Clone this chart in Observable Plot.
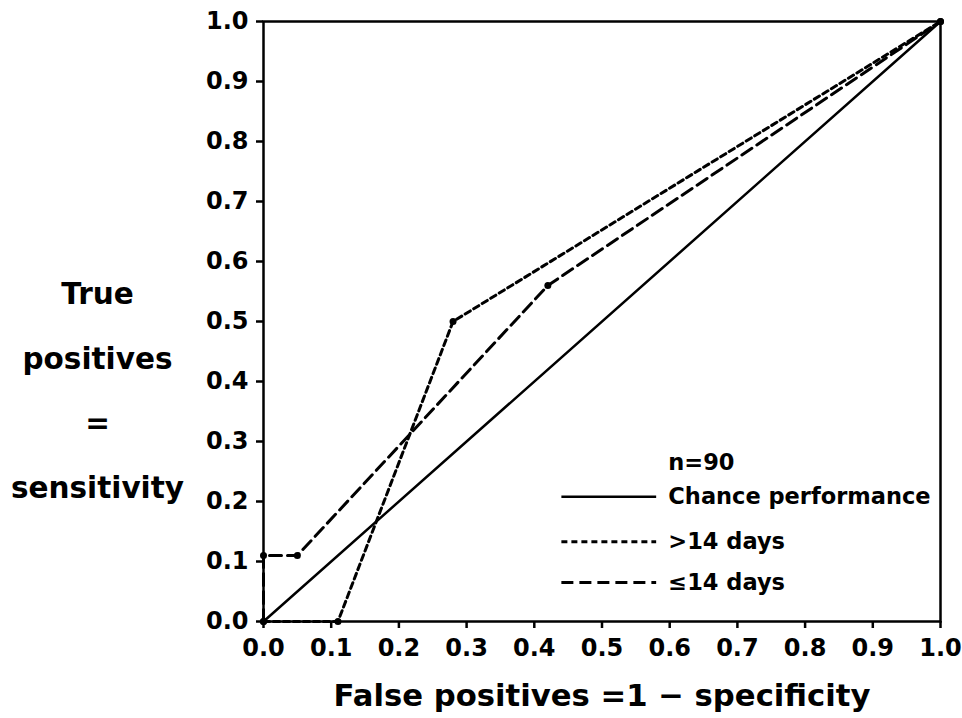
<!DOCTYPE html>
<html>
<head>
<meta charset="utf-8">
<script src="https://cdn.jsdelivr.net/npm/d3@7"></script>
<script src="https://cdn.jsdelivr.net/npm/@observablehq/plot@0.6"></script>
<style>
  html, body { margin: 0; padding: 0; background: white; }
</style>
</head>
<body>
<div id="chart"></div>
<script>
// ---- Data ----
const chanceX = [0, 1];
const chanceY = [0, 1];
const gt14X = [0, 0.11, 0.28, 1];      // > 14 days
const gt14Y = [0, 0, 0.50, 1];
const le14X = [0, 0, 0.05, 0.42, 1];   // ≤ 14 days
const le14Y = [0, 0.11, 0.11, 0.56, 1];
const xTicks = [0, 0.1, 0.2, 0.3, 0.4, 0.5, 0.6, 0.7, 0.8, 0.9, 1.0];
const yTicks = [0, 0.1, 0.2, 0.3, 0.4, 0.5, 0.6, 0.7, 0.8, 0.9, 1.0];
const legendTitle = "n=90";
const legendLabels = ["Chance performance", ">14 days", "≤14 days"];
const xLabel = "False positives =1 − specificity";
const yLabel = "True\npositives\n=\nsensitivity";

// ---- Tables built from the arrays ----
const chance = chanceX.map((x, i) => ({x, y: chanceY[i]}));
const gt14 = gt14X.map((x, i) => ({x, y: gt14Y[i]}));
const le14 = le14X.map((x, i) => ({x, y: le14Y[i]}));

// legend layout (in data units inside the frame)
const dashes = [null, "6,4", "12,6"];
const legendRowsY = [0.208, 0.133, 0.065];
const legendLines = legendLabels.map((label, i) => ({label, dash: dashes[i], y: legendRowsY[i], x1: 0.44, x2: 0.58, tx: 0.598}));

const chart = Plot.plot({
  width: 962,
  height: 718,
  marginLeft: 263,
  marginRight: 22,
  marginTop: 21,
  marginBottom: 97,
  x: {domain: [0, 1]},
  y: {domain: [0, 1]},
  style: {fontFamily: "'DejaVu Sans', sans-serif", fontWeight: "bold", fontSize: "24px", color: "black", background: "white"},
  marks: [
    Plot.frame({stroke: "black", strokeWidth: 2.5}),
    Plot.axisX({ticks: xTicks, tickFormat: d3.format(".1f"), tickSize: 7, tickPadding: 10, strokeWidth: 2.5, label: null, fontSize: 24}),
    Plot.axisY({ticks: yTicks, tickFormat: d3.format(".1f"), tickSize: 7, tickPadding: 8, strokeWidth: 2.5, label: null, fontSize: 24}),
    Plot.line(chance, {x: "x", y: "y", stroke: "black", strokeWidth: 2.5}),
    Plot.line(gt14, {x: "x", y: "y", stroke: "black", strokeWidth: 3, strokeDasharray: "6,4"}),
    Plot.line(le14, {x: "x", y: "y", stroke: "black", strokeWidth: 3, strokeDasharray: "12,6"}),
    Plot.dot(gt14, {x: "x", y: "y", r: 3.5, fill: "black"}),
    Plot.dot(le14, {x: "x", y: "y", r: 3.5, fill: "black"}),
    // legend
    Plot.text([legendTitle], {x: 0.598, y: 0.265, text: d => d, textAnchor: "start", fontSize: 22.5}),
    ...legendLines.map(d => Plot.link([d], {x1: "x1", x2: "x2", y1: "y", y2: "y", stroke: "black", strokeWidth: d.dash ? 3 : 2.5, strokeDasharray: d.dash || undefined})),
    Plot.text(legendLines, {x: "tx", y: "y", text: "label", textAnchor: "start", fontSize: 22.5}),
    // axis titles
    Plot.text([xLabel], {frameAnchor: "bottom", dy: 75, text: d => d, fontSize: 30.7, lineAnchor: "middle"}),
    Plot.text([yLabel], {frameAnchor: "left", dx: -166, dy: 59, text: d => d, fontSize: 29.5, lineHeight: 2.19, textAnchor: "middle", lineAnchor: "middle"})
  ]
});
document.getElementById("chart").appendChild(chart);
</script>
</body>
</html>
